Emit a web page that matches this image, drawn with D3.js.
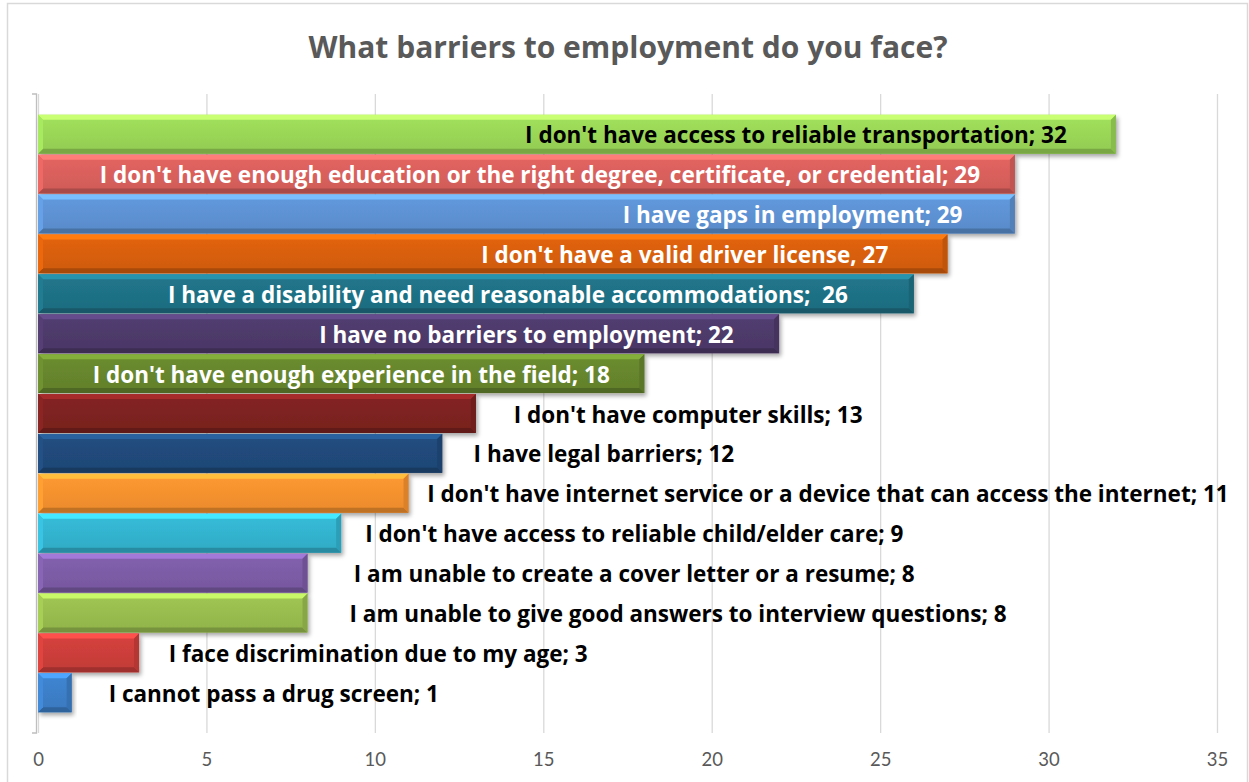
<!DOCTYPE html>
<html>
<head>
<meta charset="utf-8">
<script src="https://cdn.jsdelivr.net/npm/d3@7"></script>
<style>
  html, body { margin: 0; padding: 0; background: #fff; }
  svg { display: block; }
</style>
</head>
<body>
<svg id="chart" width="1249" height="782"></svg>
<script>
// Survey responses, top to bottom
const categories = [
  "I don't have access to reliable transportation",
  "I don't have enough education or the right degree, certificate, or credential",
  "I have gaps in employment",
  "I don't have a valid driver license",
  "I have a disability and need reasonable accommodations",
  "I have no barriers to employment",
  "I don't have enough experience in the field",
  "I don't have computer skills",
  "I have legal barriers",
  "I don't have internet service or a device that can access the internet",
  "I don't have access to reliable child/elder care",
  "I am unable to create a cover letter or a resume",
  "I am unable to give good answers to interview questions",
  "I face discrimination due to my age",
  "I cannot pass a drug screen"
];
const counts = [32, 29, 29, 27, 26, 22, 18, 13, 12, 11, 9, 8, 8, 3, 1];
// separator between text and count as written on each label
const separators = ["; ", "; ", "; ", ", ", ";  ", "; ", "; ", "; ", "; ", "; ", "; ", "; ", "; ", "; ", "; "];
const xTicks = [0, 5, 10, 15, 20, 25, 30, 35];

// Presentation
const barColors = [
  "#9ad657", "#d9605c", "#5d92d3", "#d85f0c", "#1f7185", "#4e3a6b", "#66862d",
  "#7e2220", "#204a7a", "#f7922e", "#33b3cf", "#7c5ca6", "#99bd4f", "#cc3e3a", "#3c7fc8"
];
const labelColors = [
  "#000", "#fff", "#fff", "#fff", "#fff", "#fff", "#fff",
  "#000", "#000", "#000", "#000", "#000", "#000", "#000", "#000"
];
// horizontal centre of each label, in axis units
const labelCenters = [22.5, 14.9, 22.4, 19.2, 13.95, 14.5, 9.3, 19.3, 16.8, 23.45, 17.7, 17.7, 19.0, 10.1, 7.0];
const FONT = "'Open Sans', Lato, sans-serif";

const svg = d3.select("#chart");
const W = 1249, H = 782;
const plot = { left: 38, right: 1217, top: 94, bottom: 733 };

// chart frame
svg.append("rect")
  .attr("x", 7.5).attr("y", 3.5).attr("width", W - 9).attr("height", H + 10)
  .attr("fill", "#fff").attr("stroke", "#d9d9d9").attr("stroke-width", 1.5);

const x = d3.scaleLinear().domain([0, 35]).range([plot.left, plot.right]);
const y = d3.scaleBand().domain(categories)
  .range([plot.top, plot.bottom]).paddingInner(0.025).paddingOuter(0.52);

const defs = svg.append("defs");
const shadow = defs.append("filter").attr("id", "shadow")
  .attr("x", "-5%").attr("y", "-20%").attr("width", "120%").attr("height", "160%");
shadow.append("feDropShadow").attr("dx", 2).attr("dy", 3)
  .attr("stdDeviation", 2).attr("flood-color", "#000").attr("flood-opacity", 0.35);

// gridlines
const xAxis = d3.axisBottom(x).tickValues(xTicks).tickSize(plot.bottom - plot.top).tickFormat("");
svg.append("g").attr("transform", `translate(0,${plot.top})`).call(xAxis)
  .call(g => g.select(".domain").remove())
  .call(g => g.selectAll(".tick line").attr("stroke", "#d9d9d9").attr("stroke-width", 1.3));

// tick labels
svg.append("g").attr("transform", `translate(0,${plot.bottom})`)
  .call(d3.axisBottom(x).tickValues(xTicks).tickSize(0).tickPadding(0))
  .call(g => g.select(".domain").remove())
  .call(g => g.selectAll(".tick text")
    .attr("y", 27).attr("dy", "0.35em")
    .attr("fill", "#595959").attr("font-family", "Lato, 'Open Sans', sans-serif")
    .attr("font-size", 18.5));

// category axis line with end ticks
svg.append("path")
  .attr("d", `M${plot.left - 6},${plot.top}H${plot.left - 1.5}V${plot.bottom}H${plot.left - 6}`)
  .attr("fill", "none").attr("stroke", "#bfbfbf").attr("stroke-width", 1.3);

// title
svg.append("text")
  .attr("x", 628).attr("y", 47).attr("dy", "0.36em")
  .attr("text-anchor", "middle")
  .attr("font-family", FONT)
  .attr("font-weight", "bold").attr("font-size", 30)
  .attr("fill", "#595959")
  .text("What barriers to employment do you face?");

// bevelled bars
const rows = categories.map((c, i) => ({ c, v: counts[i], i }));
const bars = svg.append("g").selectAll("g.bar").data(rows).join("g").attr("class", "bar");

bars.each(function (d) {
  const g = d3.select(this);
  const x0 = x(0), x1 = x(d.v), y0 = y(d.c), y1 = y0 + y.bandwidth();
  const b = 5;
  const base = d3.color(barColors[d.i]);
  const gid = "grad" + d.i;
  const grad = defs.append("linearGradient").attr("id", gid)
    .attr("x1", 0).attr("y1", 0).attr("x2", 0).attr("y2", 1);
  grad.append("stop").attr("offset", "0%").attr("stop-color", base.brighter(0.15));
  grad.append("stop").attr("offset", "100%").attr("stop-color", base.darker(0.15));

  g.append("rect").attr("x", x0).attr("y", y0)
    .attr("width", x1 - x0).attr("height", y1 - y0)
    .attr("fill", `url(#${gid})`).attr("filter", "url(#shadow)");
  const poly = (pts, fill) => g.append("polygon")
    .attr("points", pts.map(p => p.join(",")).join(" ")).attr("fill", fill);
  poly([[x0, y0], [x1, y0], [x1 - b, y0 + b], [x0 + b, y0 + b]], base.brighter(0.75));
  poly([[x0, y1], [x1, y1], [x1 - b, y1 - b], [x0 + b, y1 - b]], base.darker(0.7));
  poly([[x1, y0], [x1, y1], [x1 - b, y1 - b], [x1 - b, y0 + b]], base.darker(0.35));
  poly([[x0, y0], [x0, y1], [x0 + b, y1 - b], [x0 + b, y0 + b]], base.brighter(0.25));
});

// data labels
svg.append("g").selectAll("text").data(rows).join("text")
  .attr("x", d => x(labelCenters[d.i]))
  .attr("y", d => y(d.c) + y.bandwidth() / 2)
  .attr("dy", "0.4em")
  .attr("text-anchor", "middle")
  .attr("font-family", FONT)
  .attr("font-weight", "bold").attr("font-size", 22.5)
  .attr("fill", d => labelColors[d.i])
  .attr("xml:space", "preserve")
  .text(d => d.c + separators[d.i] + d.v);
</script>
</body>
</html>
